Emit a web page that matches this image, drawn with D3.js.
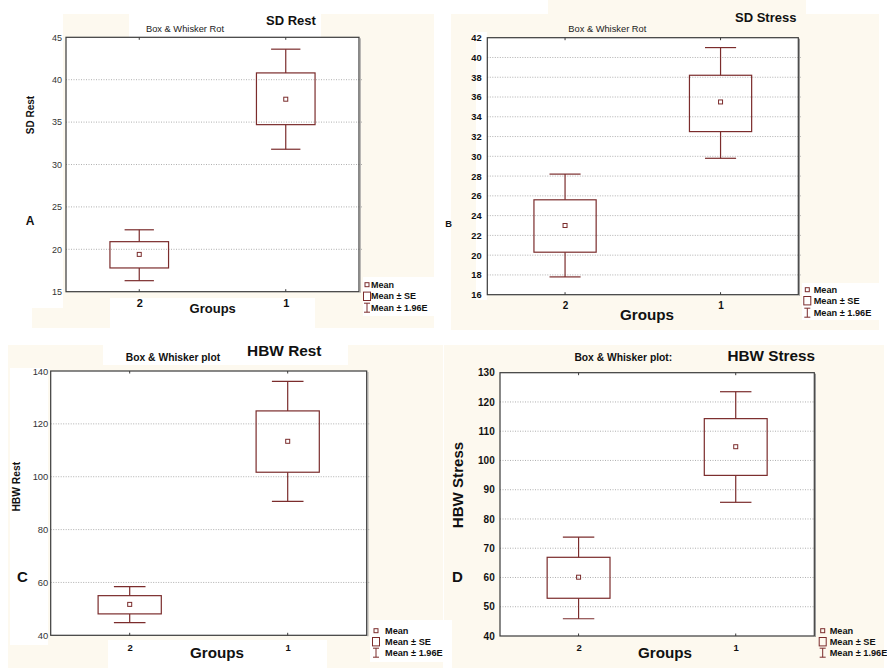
<!DOCTYPE html>
<html>
<head>
<meta charset="utf-8">
<script src="https://cdn.jsdelivr.net/npm/d3@7"></script>
<style>
  html, body { margin: 0; padding: 0; background: #ffffff; }
  svg { display: block; font-family: "Liberation Sans", Arial, sans-serif; }
</style>
</head>
<body>
<svg id="chart" width="887" height="668"></svg>
<script>
// ---------------- DATA ----------------
const groups = ["2", "1"];

const sdRestMean   = [19.4, 37.7];
const sdRestSeLow  = [17.8, 34.7];
const sdRestSeHigh = [20.9, 40.8];
const sdRestCiLow  = [16.3, 31.8];
const sdRestCiHigh = [22.3, 43.6];
const sdRestTicks  = [15, 20, 25, 30, 35, 40, 45];

const sdStressMean   = [23.0, 35.5];
const sdStressSeLow  = [20.3, 32.5];
const sdStressSeHigh = [25.6, 38.2];
const sdStressCiLow  = [17.8, 29.8];
const sdStressCiHigh = [28.2, 41.0];
const sdStressTicks  = [16, 18, 20, 22, 24, 26, 28, 30, 32, 34, 36, 38, 40, 42];

const hbwRestMean   = [51.7, 113.4];
const hbwRestSeLow  = [48.1, 101.7];
const hbwRestSeHigh = [55.0, 124.9];
const hbwRestCiLow  = [44.8, 90.7];
const hbwRestCiHigh = [58.4, 136.1];
const hbwRestTicks  = [40, 60, 80, 100, 120, 140];

const hbwStressMean   = [60.1, 104.7];
const hbwStressSeLow  = [52.9, 94.9];
const hbwStressSeHigh = [66.9, 114.3];
const hbwStressCiLow  = [45.9, 85.7];
const hbwStressCiHigh = [73.8, 123.5];
const hbwStressTicks  = [40, 50, 60, 70, 80, 90, 100, 110, 120, 130];

const legendLabels = ["Mean", "Mean \u00B1 SE", "Mean \u00B1 1.96E"];

// ---------------- STYLE / LAYOUT ----------------
const CREAM = "#fdf9ef";
const BOXC = "#7b2c2c";
const FRAMEC = "#3a3a3a";
const GRIDC = "#9c9c9c";

const svg = d3.select("#chart");

// background patches (scanned composite figure look)
const patches = [
  // panel A
  {x: 63, y: 14, w: 371, h: 314, c: CREAM},
  {x: 129, y: 0, w: 192, h: 37, c: "#fff"},
  {x: 32, y: 308, w: 78, h: 20, c: CREAM},
  {x: 110, y: 298, w: 205, h: 30, c: "#fff"},
  {x: 363, y: 277, w: 71, h: 39, c: "#fff"},
  // panel B
  {x: 451, y: 14, w: 428, h: 316, c: CREAM},
  {x: 548, y: 0, w: 258, h: 14, c: CREAM},
  {x: 476, y: 32, w: 11, h: 268, c: "#fff"},
  {x: 802, y: 283, w: 78, h: 37, c: "#fff"},
  // panel C
  {x: 8, y: 345, w: 435, h: 323, c: CREAM},
  {x: 103, y: 345, w: 245, h: 20, c: "#fff"},
  {x: 10, y: 368, w: 38, h: 277, c: "#fff"},
  {x: 108, y: 640, w: 219, h: 28, c: "#fff"},
  {x: 370, y: 620, w: 73, h: 42, c: "#fff"},
  // panel D
  {x: 444, y: 345, w: 440, h: 323, c: CREAM},
  {x: 444, y: 620, w: 8, h: 48, c: "#fff"}
];
svg.append("g").selectAll("rect").data(patches).join("rect")
  .attr("x", d => d.x).attr("y", d => d.y).attr("width", d => d.w).attr("height", d => d.h)
  .attr("fill", d => d.c);

const panels = [
  {
    mean: sdRestMean, seLow: sdRestSeLow, seHigh: sdRestSeHigh, ciLow: sdRestCiLow, ciHigh: sdRestCiHigh, ticks: sdRestTicks,
    frame: {l: 66, t: 37.3, r: 359, b: 291.7},
    tick: {bold: false, size: 9, pad: 4},
    title: {text: "SD Rest", x: 291, y: 20.7, size: 13},
    sub: {text: "Box & Whisker Rot", x: 185, y: 28.7, size: 9.3, bold: false},
    ylab: {text: "SD Rest", x: 30.7, y: 115, size: 10},
    letter: {text: "A", x: 30, y: 220.7, size: 12},
    grp: {size: 11, off: 11},
    xlab: {x: 212.7, y: 308.7, size: 13},
    legend: {x: 371, sx: 367, ys: [284.7, 296.3, 307.7], size: 9}
  },
  {
    mean: sdStressMean, seLow: sdStressSeLow, seHigh: sdStressSeHigh, ciLow: sdStressCiLow, ciHigh: sdStressCiHigh, ticks: sdStressTicks,
    frame: {l: 487.3, t: 37.7, r: 798.3, b: 294.7},
    tick: {bold: true, size: 9.3, pad: 5.6},
    title: {text: "SD Stress", x: 765.7, y: 17.3, size: 13},
    sub: {text: "Box & Whisker Rot", x: 607.3, y: 28.7, size: 9.3, bold: false},
    ylab: null,
    letter: {text: "B", x: 448.5, y: 223.3, size: 9.3},
    grp: {size: 10, off: 10.6},
    xlab: {x: 647, y: 315, size: 15.2},
    legend: {x: 813.7, sx: 807.3, ys: [289.7, 300.7, 312.7], size: 9.2}
  },
  {
    mean: hbwRestMean, seLow: hbwRestSeLow, seHigh: hbwRestSeHigh, ciLow: hbwRestCiLow, ciHigh: hbwRestCiHigh, ticks: hbwRestTicks,
    frame: {l: 50.7, t: 371, r: 366.7, b: 635.3},
    tick: {bold: false, size: 9.4, pad: 2.4},
    title: {text: "HBW Rest", x: 284.3, y: 350.7, size: 15.4},
    sub: {text: "Box & Whisker plot", x: 173, y: 357.3, size: 10.3, bold: true},
    ylab: {text: "HBW Rest", x: 16.7, y: 486.7, size: 10.3},
    letter: {text: "C", x: 22.3, y: 576.7, size: 15},
    grp: {size: 9.5, off: 12},
    xlab: {x: 217, y: 652.7, size: 15.2},
    legend: {x: 385, sx: 376, ys: [630.7, 641.7, 652.7], size: 9.2}
  },
  {
    mean: hbwStressMean, seLow: hbwStressSeLow, seHigh: hbwStressSeHigh, ciLow: hbwStressCiLow, ciHigh: hbwStressCiHigh, ticks: hbwStressTicks,
    frame: {l: 500, t: 372.7, r: 814.3, b: 636},
    tick: {bold: true, size: 10, pad: 5.3},
    title: {text: "HBW Stress", x: 771.3, y: 356, size: 15.3},
    sub: {text: "Box & Whisker plot:", x: 623.3, y: 357.3, size: 10.3, bold: true},
    ylab: {text: "HBW Stress", x: 457.3, y: 485, size: 15.1},
    letter: {text: "D", x: 457.3, y: 576.7, size: 15},
    grp: {size: 9.5, off: 11.5},
    xlab: {x: 665, y: 652.7, size: 15.2},
    legend: {x: 829.7, sx: 822.7, ys: [630.7, 641.7, 652.7], size: 9.2}
  }
];

panels.forEach(p => {
  const f = p.frame;
  const g = svg.append("g");
  const w = f.r - f.l;

  const x = d3.scalePoint().domain(groups).range([f.l, f.r]).padding(0.5);
  const y = d3.scaleLinear().domain([d3.min(p.ticks), d3.max(p.ticks)]).range([f.b, f.t]);

  // plot background
  g.append("rect").attr("x", f.l).attr("y", f.t).attr("width", w).attr("height", f.b - f.t).attr("fill", "#fff");

  // gridlines
  g.append("g").selectAll("line").data(p.ticks.slice(1, -1)).join("line")
    .attr("x1", f.l).attr("x2", f.r + 3)
    .attr("y1", d => y(d)).attr("y2", d => y(d))
    .attr("stroke", GRIDC).attr("stroke-width", 0.8).attr("stroke-dasharray", "1,1.5");

  // y axis
  const ya = g.append("g").attr("transform", `translate(${f.l},0)`)
    .call(d3.axisLeft(y).tickValues(p.ticks).tickSize(0).tickPadding(p.tick.pad).tickFormat(d3.format("d")));
  ya.select(".domain").remove();
  ya.selectAll("text")
    .attr("font-family", "Liberation Sans, Arial, sans-serif")
    .attr("font-size", p.tick.size)
    .attr("font-weight", p.tick.bold ? "bold" : "normal")
    .attr("fill", p.tick.bold ? "#111" : "#333");

  // x axis (group labels)
  const xa = g.append("g").attr("transform", `translate(0,${f.b})`)
    .call(d3.axisBottom(x).tickSize(0));
  xa.select(".domain").remove();
  xa.selectAll("text")
    .attr("y", p.grp.off).attr("dy", "0.35em")
    .attr("font-family", "Liberation Sans, Arial, sans-serif")
    .attr("font-size", p.grp.size).attr("font-weight", "bold").attr("fill", "#111");

  // small frame ticks at group positions
  g.append("g").selectAll("line").data(groups).join("line")
    .attr("x1", d => x(d)).attr("x2", d => x(d))
    .attr("y1", f.t).attr("y2", f.t + 2.5)
    .attr("stroke", FRAMEC).attr("stroke-width", 1);
  g.append("g").selectAll("line").data(groups).join("line")
    .attr("x1", d => x(d)).attr("x2", d => x(d))
    .attr("y1", f.b).attr("y2", f.b - 2.5)
    .attr("stroke", FRAMEC).attr("stroke-width", 1);

  // frame
  g.append("rect").attr("x", f.l).attr("y", f.t).attr("width", w).attr("height", f.b - f.t)
    .attr("fill", "none").attr("stroke", FRAMEC).attr("stroke-width", 1.2);
  // slight shadow on right edge
  g.append("line").attr("x1", f.r + 1.2).attr("x2", f.r + 1.2).attr("y1", f.t + 1).attr("y2", f.b + 1)
    .attr("stroke", "#9a9a9a").attr("stroke-width", 1);

  // boxes & whiskers
  const boxW = w * 0.2, capW = w * 0.1;
  const idx = groups.map((d, i) => i);
  const bw = g.append("g").attr("stroke", BOXC).attr("fill", "none").attr("stroke-width", 1.2);
  idx.forEach(i => {
    const cx = x(groups[i]);
    bw.append("line").attr("x1", cx).attr("x2", cx).attr("y1", y(p.ciHigh[i])).attr("y2", y(p.seHigh[i]));
    bw.append("line").attr("x1", cx).attr("x2", cx).attr("y1", y(p.seLow[i])).attr("y2", y(p.ciLow[i]));
    bw.append("line").attr("x1", cx - capW / 2).attr("x2", cx + capW / 2).attr("y1", y(p.ciHigh[i])).attr("y2", y(p.ciHigh[i]));
    bw.append("line").attr("x1", cx - capW / 2).attr("x2", cx + capW / 2).attr("y1", y(p.ciLow[i])).attr("y2", y(p.ciLow[i]));
    bw.append("rect").attr("x", cx - boxW / 2).attr("width", boxW)
      .attr("y", y(p.seHigh[i])).attr("height", y(p.seLow[i]) - y(p.seHigh[i]));
    bw.append("rect").attr("x", cx - 2).attr("y", y(p.mean[i]) - 2).attr("width", 4).attr("height", 4)
      .attr("stroke-width", 1);
  });

  // texts
  const txt = (t, xx, yy, size, bold, anchor) => g.append("text")
    .attr("x", xx).attr("y", yy).attr("dy", "0.35em")
    .attr("text-anchor", anchor || "middle")
    .attr("font-size", size).attr("font-weight", bold ? "bold" : "normal")
    .attr("fill", bold ? "#111" : "#222").text(t);

  txt(p.title.text, p.title.x, p.title.y, p.title.size, true);
  txt(p.sub.text, p.sub.x, p.sub.y, p.sub.size, p.sub.bold);
  txt(p.letter.text, p.letter.x, p.letter.y, p.letter.size, true);
  txt("Groups", p.xlab.x, p.xlab.y, p.xlab.size, true);
  if (p.ylab) {
    g.append("text")
      .attr("transform", `translate(${p.ylab.x},${p.ylab.y}) rotate(-90)`)
      .attr("dy", "0.35em").attr("text-anchor", "middle")
      .attr("font-size", p.ylab.size).attr("font-weight", "bold").attr("fill", "#111")
      .text(p.ylab.text);
  }

  // legend
  const L = p.legend;
  legendLabels.forEach((lab, k) => txt(lab, L.x, L.ys[k], L.size, true, "start"));
  const lg = g.append("g").attr("stroke", BOXC).attr("fill", "none").attr("stroke-width", 1);
  lg.append("rect").attr("x", L.sx - 2).attr("y", L.ys[0] - 2).attr("width", 4).attr("height", 4);
  lg.append("rect").attr("x", L.sx - 3.5).attr("y", L.ys[1] - 4.2).attr("width", 7).attr("height", 8.4);
  lg.append("line").attr("x1", L.sx).attr("x2", L.sx).attr("y1", L.ys[2] - 4.5).attr("y2", L.ys[2] + 4.5);
  lg.append("line").attr("x1", L.sx - 3).attr("x2", L.sx + 3).attr("y1", L.ys[2] - 4.5).attr("y2", L.ys[2] - 4.5);
  lg.append("line").attr("x1", L.sx - 3).attr("x2", L.sx + 3).attr("y1", L.ys[2] + 4.5).attr("y2", L.ys[2] + 4.5);
});
</script>
</body>
</html>
